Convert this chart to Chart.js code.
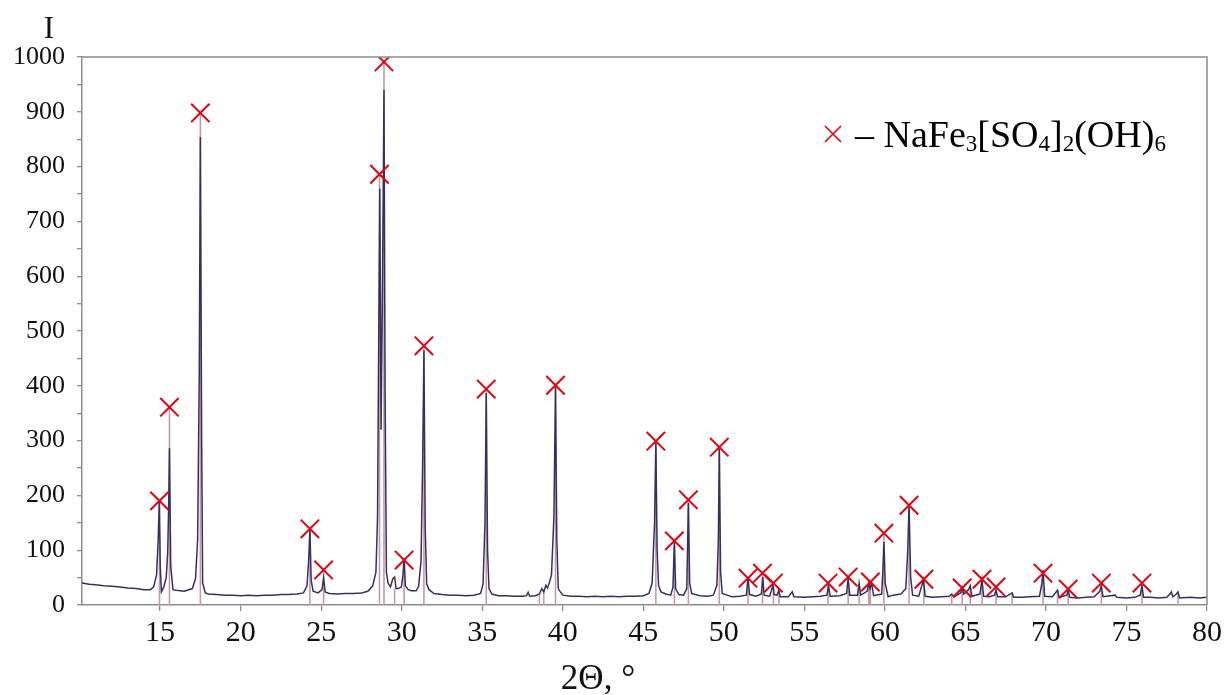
<!DOCTYPE html>
<html>
<head>
<meta charset="utf-8">
<script src="https://cdn.jsdelivr.net/npm/chart.js@4.4.1/dist/chart.umd.min.js"></script>
<style>
  html, body { margin: 0; padding: 0; background: #ffffff; }
  #wrap { position: relative; width: 1228px; height: 695px; }
  canvas { display: block; }
</style>
</head>
<body>
<div id="wrap"><canvas id="c" width="1228" height="695"></canvas></div>
<script>
// ---------------- DATA ----------------
// Measured diffraction pattern: 2-theta (deg) and intensity
const twoTheta = [
  10.15, 10.6, 11.0, 11.5, 12.0, 12.5, 13.0, 13.5, 14.0, 14.4,
  14.6, 14.78, 14.88, 14.95, 15.01, 15.08, 15.22, 15.38, 15.47, 15.53,
  15.58, 15.66, 15.8, 16.0, 16.5, 17.0, 17.2, 17.33, 17.43, 17.5,
  17.58, 17.64, 17.72, 17.8, 18.0, 18.5, 19.0, 19.5, 20.0, 20.5,
  21.0, 21.5, 22.0, 22.5, 23.0, 23.5, 23.9, 24.12, 24.22, 24.3,
  24.38, 24.5, 24.8, 25.05, 25.15, 25.25, 25.5, 26.0, 26.5, 27.0,
  27.5, 27.9, 28.2, 28.4, 28.5, 28.58, 28.64, 28.72, 28.8, 28.9,
  28.97, 29.05, 29.15, 29.3, 29.45, 29.56, 29.65, 29.8, 29.98, 30.08,
  30.15, 30.23, 30.4, 30.6, 30.9, 31.05, 31.2, 31.3, 31.38, 31.46,
  31.55, 31.7, 32.0, 32.5, 33.0, 33.5, 34.0, 34.5, 34.9, 35.05,
  35.17, 35.25, 35.33, 35.42, 35.6, 36.0, 36.5, 37.0, 37.5, 37.75,
  37.85, 37.95, 38.3, 38.55, 38.7, 38.82, 38.95, 39.05, 39.18, 39.3,
  39.45, 39.55, 39.63, 39.72, 39.85, 40.0, 40.5, 41.0, 41.5, 42.0,
  42.5, 43.0, 43.5, 44.0, 44.5, 45.0, 45.35, 45.55, 45.7, 45.78,
  45.86, 45.95, 46.1, 46.4, 46.7, 46.84, 46.93, 47.01, 47.2, 47.5,
  47.7, 47.8, 47.88, 48.0, 48.5, 49.0, 49.35, 49.57, 49.66, 49.72,
  49.8, 49.9, 50.2, 50.5, 51.0, 51.4, 51.5, 51.6, 52.0, 52.33,
  52.42, 52.5, 52.85, 53.05, 53.13, 53.3, 53.42, 53.5, 54.0, 54.25,
  54.35, 55.0, 55.5, 56.0, 56.4, 56.5, 56.6, 57.2, 57.62, 57.72,
  57.82, 58.3, 58.4, 58.5, 58.9, 59.0, 59.08, 59.18, 59.3, 59.8,
  59.87, 59.94, 60.02, 60.2, 60.5, 61.0, 61.3, 61.42, 61.5, 61.6,
  61.72, 62.1, 62.4, 62.5, 63.0, 63.5, 64.0, 64.15, 64.3, 64.7,
  64.8, 64.9, 65.2, 65.3, 65.4, 65.9, 66.03, 66.13, 66.5, 66.8,
  66.9, 67.0, 67.5, 67.9, 68.0, 68.5, 69.0, 69.6, 69.75, 69.82,
  69.92, 70.4, 70.72, 70.82, 71.3, 71.38, 71.48, 72.0, 72.5, 73.0,
  73.34, 73.44, 73.54, 74.3, 74.4, 75.0, 75.5, 75.85, 75.96, 76.06,
  76.5, 77.0, 77.5, 77.7, 77.78, 77.88, 78.1, 78.2, 78.3, 79.0,
  79.5, 80.0
];
const intensity = [
  40, 38, 37, 35, 34, 33, 31, 30, 28, 28,
  33, 55, 120, 188, 70, 24, 32, 50, 95, 180,
  286, 70, 28, 27, 25, 30, 48, 120, 420, 854,
  300, 40, 32, 22, 20, 19, 18, 18, 17, 18,
  17, 18, 18, 19, 19, 20, 22, 35, 80, 137,
  45, 25, 22, 28, 49, 24, 21, 20, 21, 21,
  22, 25, 35, 60, 160, 520, 760, 320, 560, 940,
  380, 60, 40, 33, 48, 51, 30, 30, 33, 55,
  86, 35, 28, 26, 26, 34, 80, 260, 465, 140,
  38, 28, 21, 19, 18, 18, 17, 18, 21, 38,
  150, 387, 100, 30, 20, 17, 17, 16, 16, 17,
  23, 16, 17, 20, 30, 24, 36, 31, 42, 55,
  160, 398, 120, 30, 24, 18, 16, 16, 15, 16,
  15, 16, 15, 16, 16, 17, 21, 40, 150, 296,
  100, 35, 24, 20, 18, 32, 115, 30, 19, 18,
  30, 186, 40, 21, 17, 16, 18, 36, 120, 286,
  60, 21, 18, 15, 16, 18, 51, 19, 16, 20,
  51, 18, 16, 36, 19, 18, 27, 15, 15, 24,
  15, 14, 15, 16, 18, 36, 16, 17, 21, 49,
  18, 18, 40, 18, 25, 40, 30, 40, 17, 20,
  60, 115, 40, 15, 18, 20, 30, 100, 182, 50,
  18, 16, 46, 16, 14, 15, 16, 20, 15, 22,
  31, 20, 28, 35, 16, 20, 46, 16, 15, 18,
  27, 15, 15, 22, 14, 14, 15, 16, 40, 64,
  16, 15, 27, 14, 18, 27, 14, 13, 14, 15,
  25, 35, 15, 18, 14, 13, 14, 18, 35, 14,
  14, 13, 14, 20, 24, 15, 20, 24, 13, 14,
  13, 14
];

// Reference lines of NaFe3[SO4]2(OH)6 (marked with red crosses)
const refPos = [14.96, 15.58, 17.5, 24.3, 25.15, 28.62, 28.9, 30.15, 31.38, 35.25,
  39.55, 45.78, 46.93, 47.8, 49.72, 51.5, 52.4, 53.08, 56.47, 57.72,
  59.1, 59.94, 61.5, 62.42, 64.8, 66.03, 66.9, 69.82, 71.38, 73.44, 75.96];
const refInt = [190, 361, 898, 139, 64, 786, 991, 82, 473, 394,
  401, 299, 117, 192, 288, 49, 58, 40, 40, 51,
  42, 131, 182, 47, 31, 47, 33, 58, 29, 40, 40];

// Further reference lines without a marker
const extraPos = [29.56, 38.55, 38.82, 53.42, 58.4, 59.0, 64.15, 65.3, 67.9, 70.72, 78.2];
const extraInt = [30, 20, 28, 27, 38, 38, 20, 34, 20, 26, 22];

// Axis ticks
const xTicks = [15, 20, 25, 30, 35, 40, 45, 50, 55, 60, 65, 70, 75, 80];
const xTickLabels = ['15', '20', '25', '30', '35', '40', '45', '50', '55', '60', '65', '70', '75', '80'];
const yMin = 0, yMax = 1000, yStep = 50, yLabelStep = 100;

// ---------------- BUILD ----------------
const SERIF = "'Liberation Serif', 'Times New Roman', 'DejaVu Serif', serif";
const patternPts = twoTheta.map((x, i) => ({ x: x, y: intensity[i] }));
const markerPts = refPos.map((x, i) => ({ x: x, y: refInt[i] }));
const stickPts = [];
refPos.concat(extraPos).forEach((x, i) => {
  const h = i < refPos.length ? refInt[i] : extraInt[i - refPos.length];
  stickPts.push({ x: x, y: 0 }, { x: x, y: h }, { x: x, y: null });
});

const overlay = {
  id: 'overlay',
  afterDraw(chart) {
    const { ctx, chartArea: a } = chart;
    ctx.save();
    // frame top and right
    ctx.strokeStyle = '#8c8c8c';
    ctx.lineWidth = 1.5;
    ctx.beginPath();
    ctx.moveTo(a.left, a.top);
    ctx.lineTo(a.right, a.top);
    ctx.lineTo(a.right, a.bottom);
    ctx.stroke();

    // y axis title
    ctx.fillStyle = '#111';
    ctx.textBaseline = 'alphabetic';
    ctx.textAlign = 'center';
    ctx.font = '31px ' + SERIF;
    ctx.fillText('I', 49, 38);

    // x axis title
    ctx.font = '35px ' + SERIF;
    ctx.fillText('2\u0398, \u00B0', 598, 689);

    // legend
    const sym = { x: 833, y: 134, r: 8 };
    ctx.strokeStyle = '#e3000f';
    ctx.lineWidth = 1.6;
    ctx.beginPath();
    ctx.moveTo(sym.x - sym.r, sym.y - sym.r); ctx.lineTo(sym.x + sym.r, sym.y + sym.r);
    ctx.moveTo(sym.x + sym.r, sym.y - sym.r); ctx.lineTo(sym.x - sym.r, sym.y + sym.r);
    ctx.stroke();

    const parts = [['\u2013 NaFe', 0], ['3', 1], ['[SO', 0], ['4', 1], [']', 0], ['2', 1], ['(OH)', 0], ['6', 1]];
    let x = 855; const base = 147;
    ctx.textAlign = 'left';
    ctx.fillStyle = '#000';
    parts.forEach(([t, sub]) => {
      ctx.font = (sub ? '23px ' : '38px ') + SERIF;
      ctx.fillText(t, x, sub ? base + 4 : base);
      x += ctx.measureText(t).width;
    });
    ctx.restore();
  }
};

new Chart(document.getElementById('c').getContext('2d'), {
  type: 'scatter',
  data: {
    datasets: [
      {
        label: 'NaFe3[SO4]2(OH)6',
        data: markerPts,
        showLine: false,
        pointStyle: 'crossRot',
        pointRadius: 13,
        pointHoverRadius: 13,
        borderColor: '#e3000f',
        backgroundColor: '#e3000f',
        pointBorderWidth: 2,
        order: 0
      },
      {
        label: 'pattern',
        data: patternPts,
        showLine: true,
        pointRadius: 0,
        borderColor: '#35315f',
        borderWidth: 1.5,
        tension: 0,
        order: 1
      },
      {
        label: 'reference',
        data: stickPts,
        showLine: true,
        spanGaps: false,
        pointRadius: 0,
        borderColor: '#c29aab',
        borderWidth: 1.6,
        order: 2
      }
    ]
  },
  options: {
    responsive: false,
    animation: false,
    events: [],
    layout: { padding: { top: 57, right: 21, left: 0, bottom: 0 } },
    plugins: { legend: { display: false }, tooltip: { enabled: false } },
    scales: {
      x: {
        type: 'linear',
        min: 10.15,
        max: 80,
        afterBuildTicks: (s) => { s.ticks = xTicks.map(v => ({ value: v })); },
        afterFit: (s) => { s.height = 90; },
        ticks: {
          autoSkip: false,
          maxRotation: 0,
          padding: 4,
          color: '#111',
          font: { family: SERIF, size: 30 },
          callback: (v, i) => xTickLabels[i]
        },
        grid: { drawOnChartArea: false, drawTicks: true, tickLength: 6, color: '#8c8c8c', lineWidth: 1.3 },
        border: { color: '#8c8c8c', width: 1.5 }
      },
      y: {
        min: yMin,
        max: yMax,
        afterFit: (s) => { s.width = 82; },
        ticks: {
          stepSize: yStep,
          autoSkip: false,
          padding: 12,
          color: '#111',
          font: { family: SERIF, size: 26 },
          callback: (v) => (v % yLabelStep === 0 ? String(v) : '')
        },
        grid: { drawOnChartArea: false, drawTicks: true, tickLength: 5, color: '#8c8c8c', lineWidth: 1.3 },
        border: { color: '#8c8c8c', width: 1.5 }
      }
    }
  },
  plugins: [overlay]
});
</script>
</body>
</html>
